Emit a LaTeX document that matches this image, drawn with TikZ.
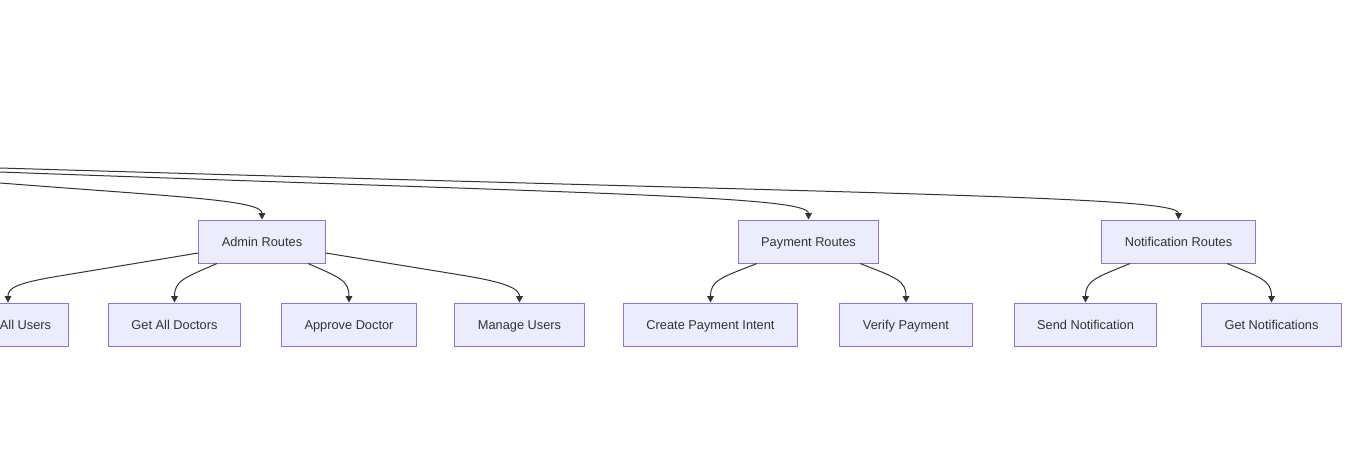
\documentclass[tikz,border=0pt]{standalone}
\usepackage{fontspec}
\setmainfont{Liberation Sans}
\usetikzlibrary{arrows.meta,calc}
\definecolor{nfill}{HTML}{ECECFF}
\definecolor{nborder}{HTML}{9370DB}
\definecolor{ink}{HTML}{333333}
\begin{document}
\begin{tikzpicture}[x=0.75pt,y=-0.75pt,
  box/.style={draw=nborder,fill=nfill,line width=0.75pt,minimum height=32.25pt,
    inner xsep=17.3pt,inner ysep=0pt,text height=8pt,text depth=1pt,text=ink,
    font=\fontsize{9.6}{11.5}\selectfont},
  edge/.style={draw=ink,line width=0.75pt,-{Triangle[length=4.8pt,width=5pt]}}]
\useasboundingbox (0,0) rectangle (1349,462);
\clip (0,0) rectangle (1349,462);
% free ends of the edges coming from the source outside the picture
\coordinate (srcA) at (0,183);
\coordinate (srcP) at (0,172);
\coordinate (srcN) at (0,168);
% top row
\node[box] (adm) at (262,241.5) {Admin Routes};
\node[box] (pay) at (808.5,241.5) {Payment Routes};
\node[box] (ntf) at (1178.5,241.5) {Notification Routes};
% bottom row
\node[box,inner xsep=12.75pt] (au) at (8,324.5) {\hspace*{26.25pt}All Users};
\node[box] (gad) at (174.5,324.5) {Get All Doctors};
\node[box] (apd) at (349,324.5) {Approve Doctor};
\node[box] (mus) at (519.5,324.5) {Manage Users};
\node[box] (cpi) at (710.5,324.5) {Create Payment Intent};
\node[box] (vpy) at (906,324.5) {Verify Payment};
\node[box] (snd) at (1085.5,324.5) {Send Notification};
\node[box] (gnt) at (1271.5,324.5) {Get Notifications};
% incoming edges
\draw[edge] (srcA) .. controls (180,197) and (262,200) .. (adm.north);
\draw[edge] (srcP) .. controls (600,194) and (808.5,196) .. (pay.north);
\draw[edge] (srcN) .. controls (900,195) and (1178.5,196) .. (ntf.north);
% admin children
\draw[edge] ($(adm.west)+(0,11.5)$) -- ++(-139,23) .. controls +(-45,7.4) and +(0,-14) .. (au.north);
\draw[edge] ($(adm.south)+(-45,0)$) .. controls +(-32,14) and +(0,-22) .. (gad.north);
\draw[edge] ($(adm.south)+(46,0)$) .. controls +(32,14) and +(0,-22) .. (apd.north);
\draw[edge] ($(adm.east)+(0,11.5)$) -- ++(135,22) .. controls +(45,7.3) and +(0,-14) .. (mus.north);
% payment children
\draw[edge] ($(pay.south)+(-51.5,0)$) .. controls +(-36,14) and +(0,-22) .. (cpi.north);
\draw[edge] ($(pay.south)+(51.5,0)$) .. controls +(36,14) and +(0,-22) .. (vpy.north);
% notification children
\draw[edge] ($(ntf.south)+(-48.5,0)$) .. controls +(-34,14) and +(0,-22) .. (snd.north);
\draw[edge] ($(ntf.south)+(48.5,0)$) .. controls +(34,14) and +(0,-22) .. (gnt.north);
\end{tikzpicture}
\end{document}
